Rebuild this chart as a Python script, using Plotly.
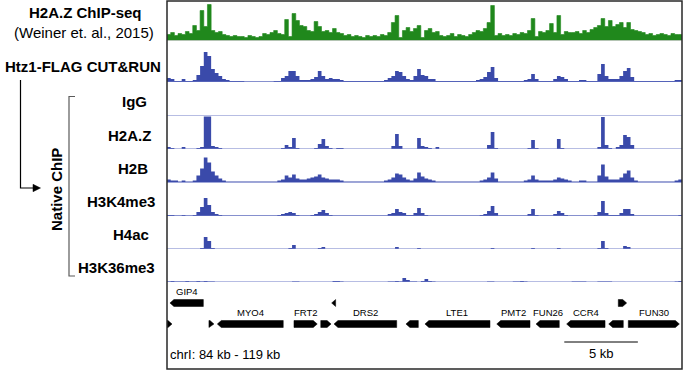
import plotly.graph_objects as go

# ---------------- data ----------------
X_START_KB, X_END_KB, BIN_KB = 84.0, 119.0, 0.25

track_labels = ["IgG", "H2A.Z", "H2B", "H3K4me3", "H4ac", "H3K36me3"]

chipseq_h2az = [
    6, 8, 5, 7, 6, 9, 7, 15, 10, 30,
    14, 36, 10, 8, 9, 6, 5, 4, 5, 4,
    4, 3, 5, 4, 3, 4, 7, 6, 8, 10,
    7, 6, 21, 4, 27, 20, 15, 14, 10, 9,
    19, 14, 9, 10, 8, 12, 8, 7, 5, 6,
    4, 5, 4, 3, 5, 4, 5, 4, 6, 5,
    8, 18, 25, 3, 10, 13, 9, 12, 15, 3,
    10, 12, 8, 9, 5, 4, 5, 7, 4, 6,
    5, 4, 6, 8, 10, 9, 12, 18, 35, 5,
    7, 5, 6, 5, 7, 6, 8, 7, 10, 22,
    4, 9, 8, 10, 17, 8, 25, 6, 9, 8,
    8, 9, 7, 10, 8, 11, 13, 15, 22, 14,
    20, 14, 16, 18, 13, 18, 11, 10, 9, 8,
    6, 7, 5, 6, 7, 6, 5, 7, 6, 6,
]

cutrun_htz1 = [
    4, 3, 1, 1, 3, 1, 1, 2, 7, 16,
    30, 26, 13, 9, 6, 3, 2, 1, 1, 1,
    1, 0.5, 0.5, 0.5, 0.5, 0.5, 0.5, 0.5, 0.5, 1,
    1, 4, 6, 11, 11, 6, 2, 2, 2, 3,
    5, 11, 6, 3, 4, 3, 3, 2, 1, 1,
    1, 1, 1, 1, 1, 1, 1, 1, 1, 2,
    4, 6, 11, 10, 6, 3, 2, 6, 13, 7,
    6, 3, 3, 1, 1, 1, 1, 1, 1, 1,
    1, 1, 1, 1, 2, 3, 5, 10, 15, 4,
    1, 1, 1, 1, 1, 1, 1, 2, 3, 8,
    3, 1, 1, 1, 1, 3, 6, 5, 3, 1,
    1, 1, 2, 2, 1, 1, 1, 8, 18, 6,
    3, 3, 3, 6, 11, 14, 5, 1, 1, 1,
    1, 1, 1, 1, 1, 1, 1, 1, 2, 2,
]

native_igg = [
    0, 0, 0, 0, 0, 0, 0, 0, 0, 0,
    0, 0, 0, 0, 0, 0, 0, 0, 0, 0,
    0, 0, 0, 0, 0, 0, 0, 0, 0, 0,
    0, 0, 0, 0, 0, 0, 0, 0, 0, 0,
    0, 0, 0, 0, 0, 0, 0, 0, 0, 0,
    0, 0, 0, 0, 0, 0, 0, 0, 0, 0,
    0, 0, 0, 0, 0, 0, 0, 0, 0, 0,
    0, 0, 0, 0, 0, 0, 0, 0, 0, 0,
    0, 0, 0, 0, 0, 0, 0, 0, 0, 0,
    0, 0, 0, 0, 0, 0, 0, 0, 0, 0,
    0, 0, 0, 0, 0, 0, 0, 0, 0, 0,
    0, 0, 0, 0, 0, 0, 0, 0, 0, 0,
    0, 0, 0, 0, 0, 0, 0, 0, 0, 0,
    0, 0, 0, 0, 0, 0, 0, 0, 0, 0,
]

native_h2az = [
    2, 1, 0, 0, 2, 0, 0, 0, 1, 2,
    34, 34, 3, 2, 1, 0, 0, 0, 0, 0,
    0, 0, 0, 0, 0, 0, 0, 0, 0, 0,
    0, 1, 4, 2, 11, 1, 0, 0, 0, 0,
    1, 5, 10, 3, 1, 0, 1, 1, 0, 0,
    0, 0, 0, 0, 0, 0, 0, 0, 0, 0,
    0, 3, 15, 3, 0, 0, 0, 0, 11, 3,
    2, 1, 0, 2, 0, 0, 0, 0, 0, 0,
    0, 0, 0, 0, 0, 0, 0, 4, 17, 1,
    0, 0, 0, 0, 0, 0, 0, 0, 1, 9,
    1, 0, 0, 0, 0, 0, 10, 1, 0, 0,
    0, 0, 0, 0, 0, 0, 0, 2, 32, 4,
    1, 0, 2, 4, 14, 12, 4, 0, 0, 0,
    0, 0, 0, 0, 0, 0, 0, 0, 0, 0,
]

native_h2b = [
    3, 2, 2, 1, 2, 1, 1, 2, 7, 14,
    25, 20, 11, 7, 4, 2, 1, 1, 1, 1,
    1, 1, 1, 1, 1, 1, 1, 1, 1, 1,
    2, 3, 7, 5, 8, 4, 3, 3, 4, 5,
    6, 8, 5, 4, 3, 3, 3, 2, 1, 1,
    1, 1, 1, 1, 1, 1, 1, 1, 1, 2,
    3, 5, 9, 8, 5, 3, 2, 4, 10, 6,
    4, 3, 2, 1, 1, 1, 1, 1, 1, 1,
    1, 1, 1, 1, 1, 2, 3, 5, 10, 4,
    1, 1, 1, 1, 1, 1, 1, 2, 3, 7,
    3, 2, 2, 2, 2, 3, 5, 4, 3, 2,
    1, 1, 2, 2, 1, 1, 1, 7, 18, 6,
    3, 3, 3, 5, 9, 12, 5, 2, 1, 1,
    1, 1, 1, 1, 1, 1, 1, 1, 2, 3,
]

native_h3k4me3 = [
    1, 1, 0.5, 0.5, 1, 0.5, 0.5, 1, 4, 9,
    18, 11, 4, 2, 1, 0.5, 0.5, 0.5, 0.5, 0.5,
    0.5, 0.5, 0.5, 0.5, 0.5, 0.5, 0.5, 0.5, 0.5, 0.5,
    1, 2, 3, 4, 3, 1, 0.5, 0.5, 0.5, 1,
    2, 4, 6, 3, 1, 0.5, 0.5, 0.5, 0.5, 0.5,
    0.5, 0.5, 0.5, 0.5, 0.5, 0.5, 0.5, 0.5, 0.5, 0.5,
    2, 3, 7, 4, 3, 1, 1, 3, 8, 3,
    1, 0.5, 0.5, 0.5, 0.5, 0.5, 0.5, 0.5, 0.5, 0.5,
    0.5, 0.5, 0.5, 0.5, 0.5, 1, 2, 5, 10, 3,
    0.5, 0.5, 0.5, 0.5, 0.5, 0.5, 0.5, 0.5, 2, 7,
    1, 0.5, 0.5, 0.5, 0.5, 2, 5, 3, 1, 0.5,
    0.5, 0.5, 0.5, 0.5, 0.5, 0.5, 1, 4, 15, 3,
    1, 1, 1, 3, 7, 7, 2, 0.5, 0.5, 0.5,
    0.5, 0.5, 0.5, 0.5, 0.5, 0.5, 0.5, 0.5, 0.5, 1,
]

native_h4ac = [
    0, 0, 0, 0, 0, 0, 0, 0, 0, 1,
    12, 8, 1, 0, 0, 0, 0, 0, 0, 0,
    0, 0, 0, 0, 0, 0, 0, 0, 0, 0,
    0, 0, 0, 1, 4, 0, 0, 0, 0, 0,
    0, 1, 2, 0, 0, 0, 0, 0, 0, 0,
    0, 0, 0, 0, 0, 0, 0, 0, 0, 0,
    0, 0, 2, 0, 0, 0, 0, 0, 1, 0,
    0, 0, 0, 0, 0, 0, 0, 0, 0, 0,
    0, 0, 0, 0, 0, 0, 0, 0, 1, 0,
    0, 0, 0, 0, 0, 0, 0, 0, 0, 1,
    0, 0, 0, 0, 0, 0, 1, 0, 0, 0,
    0, 0, 0, 0, 0, 0, 0, 1, 8, 1,
    0, 0, 0, 0, 3, 2, 0, 0, 0, 0,
    0, 0, 0, 0, 0, 0, 0, 0, 0, 0,
]

native_h3k36me3 = [
    0.5, 1, 0.5, 0.5, 0.5, 1, 0.5, 0.5, 1, 0.5,
    1, 0.5, 0.5, 0, 0, 0, 0, 0, 0, 0,
    0, 0, 0, 0, 0, 0, 0, 0, 0, 0,
    0, 0, 0, 0, 0.5, 0.5, 0, 0, 0, 0,
    0, 0, 0, 0, 0, 1, 1, 0.5, 0, 0,
    0, 0, 0, 0, 0, 0, 0, 0, 0, 0,
    0.5, 0.5, 1, 0.5, 4, 2, 0.5, 0.5, 0, 1,
    3, 1, 0.5, 0, 0, 0, 0, 0, 0, 0,
    0, 0, 0, 0, 0, 0, 0, 0.5, 0.5, 0,
    0, 0, 0, 0, 0.5, 0.5, 1, 0.5, 0, 0,
    0, 0, 0, 0, 0, 0, 0, 0, 0, 0,
    0.5, 0.5, 0.5, 0.5, 0, 0, 0, 0.5, 0.5, 0.5,
    0.5, 0, 0, 0, 0, 0, 0, 0, 0, 0,
    0, 0, 0, 0, 0, 0, 0, 0, 0.5, 1,
]

gene_label = ["GIP4", "", "", "", "", "MYO4", "FRT2", "", "DRS2", "", "LTE1", "PMT2", "FUN26", "CCR4", "", "FUN30"]
gene_start = [84.20, 95.19, 114.67, 83.90, 86.85, 87.42, 92.63, 94.45, 95.35, 100.24, 101.53, 106.41, 109.08, 111.16, 114.02, 115.35]
gene_end = [86.47, 95.46, 115.24, 84.34, 87.19, 91.90, 94.21, 95.15, 99.61, 101.08, 105.95, 108.67, 110.66, 113.77, 115.01, 118.82]
gene_strand = ["-", "-", "+", "+", "+", "-", "+", "+", "-", "-", "-", "-", "-", "-", "-", "+"]
gene_row = [1, 1, 1, 2, 2, 2, 2, 2, 2, 2, 2, 2, 2, 2, 2, 2]

scale_bar_kb = 5
locus_text = "chrI: 84 kb - 119 kb"

# ---------------- style / layout ----------------
W, H = 685, 372
FONT = "Liberation Sans, Arial, Helvetica, sans-serif"
GREEN = "rgb(32,136,28)"
BLUE = "rgb(58,74,170)"
BASE_BLUE = "rgb(112,124,200)"
BOX_L, BOX_R, BOX_T, BOX_B = 167, 682, 1, 369


def px(x):
    return x / W


def py(y):
    return 1 - y / H


# (top pixel, baseline pixel) of each signal track
track_px = [(3, 40.5), (42, 82), (83, 116), (116.5, 149), (149.5, 182.5),
            (183, 216), (216.5, 249), (249.5, 282)]
track_data = [chipseq_h2az, cutrun_htz1, native_igg, native_h2az, native_h2b,
              native_h3k4me3, native_h4ac, native_h3k36me3]

n = len(cutrun_htz1)
edges = [X_START_KB + BIN_KB * i for i in range(n + 1)]

fig = go.Figure()
layout_axes = {}
shapes = []

for k, (vals, (top, base)) in enumerate(zip(track_data, track_px)):
    yname = "y" if k == 0 else f"y{k + 1}"
    axname = "yaxis" if k == 0 else f"yaxis{k + 1}"
    layout_axes[axname] = dict(domain=[py(base), py(top)], range=[0, base - top],
                               visible=False, fixedrange=True, anchor="x")
    color = GREEN if k == 0 else BLUE
    if k == 0:
        shapes.append(dict(type="line", xref="x", yref=yname, x0=X_START_KB, x1=X_END_KB,
                           y0=-0.8, y1=-0.8, line=dict(color="rgb(150,150,150)", width=2)))
    else:
        shapes.append(dict(type="line", xref="x", yref=yname, x0=X_START_KB, x1=X_END_KB,
                           y0=0, y1=0, line=dict(color=BASE_BLUE, width=1.2)))
    fig.add_trace(go.Scatter(
        x=edges, y=vals + [vals[-1]], mode="lines",
        line=dict(color=color, width=0.6 if k == 0 else 0, shape="hv"),
        fill="tozeroy", fillcolor=color, xaxis="x", yaxis=yname,
        hoverinfo="skip"))

# gene track axis (values in pixel rows)
GENE_AX = "y9"
layout_axes["yaxis9"] = dict(domain=[py(BOX_B), py(284)], range=[BOX_B, 284],
                             visible=False, fixedrange=True, anchor="x")
ROW_Y = {1: 303, 2: 324}
HALF_H = 3.5
TIP_KB = 0.27

gx, gy = [], []
for s, e, st, r in zip(gene_start, gene_end, gene_strand, gene_row):
    yc = ROW_Y[r]
    tip = min(TIP_KB, e - s)
    if st == "+":
        xs = [s, e - tip, e, e - tip, s, s]
    else:
        xs = [e, s + tip, s, s + tip, e, e]
    ys = [yc - HALF_H, yc - HALF_H, yc, yc + HALF_H, yc + HALF_H, yc - HALF_H]
    gx += xs + [None]
    gy += ys + [None]
fig.add_trace(go.Scatter(x=gx, y=gy, mode="lines", fill="toself", fillcolor="black",
                         line=dict(color="black", width=0.5), xaxis="x", yaxis=GENE_AX,
                         hoverinfo="skip"))

annotations = []
for lab, s, e, r in zip(gene_label, gene_start, gene_end, gene_row):
    if lab:
        annotations.append(dict(x=(s + e) / 2, y=ROW_Y[r] - 12, xref="x", yref=GENE_AX,
                                xanchor="center", yanchor="middle",
                                text=lab, showarrow=False,
                                font=dict(family=FONT, size=9.5, color="black")))

# scale bar
SB_START = 111.0
shapes.append(dict(type="line", xref="x", yref=GENE_AX, x0=SB_START, x1=SB_START + scale_bar_kb,
                   y0=342, y1=342, line=dict(color="black", width=1)))
annotations.append(dict(x=SB_START + scale_bar_kb / 2, y=353, xref="x", yref=GENE_AX,
                        xanchor="center", yanchor="middle",
                        text=f"{scale_bar_kb} kb", showarrow=False,
                        font=dict(family=FONT, size=13, color="black")))
annotations.append(dict(x=px(168), y=py(354), xref="paper", yref="paper",
                        xanchor="left", yanchor="middle",
                        text=locus_text, showarrow=False,
                        font=dict(family=FONT, size=13, color="black")))

# outer box
shapes.append(dict(type="rect", xref="paper", yref="paper", x0=px(BOX_L), x1=px(BOX_R),
                   y0=py(BOX_B), y1=py(BOX_T), line=dict(color="rgb(40,40,40)", width=1.5)))

# left-hand labels
annotations.append(dict(x=px(85), y=py(13), xref="paper", yref="paper", showarrow=False,
                        xanchor="center", yanchor="middle",
                        text="<b>H2A.Z ChIP-seq</b>", font=dict(family=FONT, size=15, color="black")))
annotations.append(dict(x=px(84), y=py(32), xref="paper", yref="paper", showarrow=False,
                        xanchor="center", yanchor="middle",
                        text="(Weiner et. al., 2015)", font=dict(family=FONT, size=15, color="black")))
annotations.append(dict(x=px(163), y=py(66), xref="paper", yref="paper", showarrow=False,
                        xanchor="right", yanchor="middle", text="<b>Htz1-FLAG CUT&RUN</b>",
                        font=dict(family=FONT, size=15, color="black")))

label_right = [149, 153, 150, 157, 151, 157]
label_y = [101, 135, 168, 201, 234, 267]
for lab, xr, yy in zip(track_labels, label_right, label_y):
    annotations.append(dict(x=px(xr), y=py(yy), xref="paper", yref="paper", showarrow=False,
                            xanchor="right", yanchor="middle", text=f"<b>{lab}</b>",
                            font=dict(family=FONT, size=15, color="black")))

annotations.append(dict(x=px(56), y=py(190), xref="paper", yref="paper", showarrow=False,
                        xanchor="center", yanchor="middle",
                        textangle=-90, text="<b>Native ChIP</b>",
                        font=dict(family=FONT, size=15, color="black")))


# arrow from CUT&RUN to Native ChIP
def path(points):
    return "M " + " L ".join(f"{px(a):.5f},{py(b):.5f}" for a, b in points)


shapes.append(dict(type="path", xref="paper", yref="paper",
                   path=path([(20.5, 80), (20.5, 188), (34, 188)]),
                   line=dict(color="black", width=1.2)))
shapes.append(dict(type="path", xref="paper", yref="paper",
                   path=path([(33, 184.3), (40.5, 188), (33, 191.7)]) + " Z",
                   fillcolor="black", line=dict(color="black", width=0.5)))
# bracket
shapes.append(dict(type="path", xref="paper", yref="paper",
                   path=path([(75, 96.5), (69, 96.5), (69, 276), (75, 276)]),
                   line=dict(color="rgb(90,90,90)", width=1.2)))

fig.update_layout(
    width=W, height=H, margin=dict(l=0, r=0, t=0, b=0),
    paper_bgcolor="white", plot_bgcolor="white", showlegend=False,
    xaxis=dict(domain=[px(BOX_L), px(BOX_R)], range=[X_START_KB, X_END_KB],
               visible=False, fixedrange=True),
    shapes=shapes, annotations=annotations,
    **layout_axes,
)

fig.write_html("out.html", config={"displayModeBar": False},
               post_script="document.body.style.margin='0px';document.body.style.padding='0px';"
                           "document.body.style.overflow='hidden';")
